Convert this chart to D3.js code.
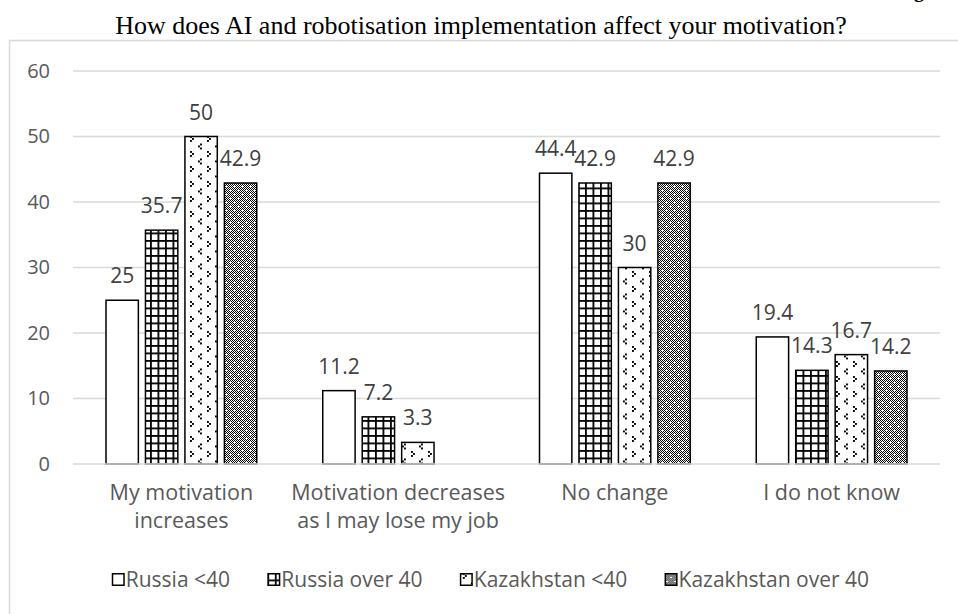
<!DOCTYPE html>
<html><head><meta charset="utf-8">
<script src="https://cdn.jsdelivr.net/npm/d3@7"></script>
<style>body{margin:0;background:#fff}svg{display:block}</style>
</head><body>
<svg id="c" width="958" height="614"></svg>
<script>
const categories = [["My motivation","increases"],["Motivation decreases","as I may lose my job"],["No change"],["I do not know"]];
const seriesNames = ["Russia <40","Russia over 40","Kazakhstan <40","Kazakhstan over 40"];
const russiaUnder40 = [25, 11.2, 44.4, 19.4];
const russiaOver40 = [35.7, 7.2, 42.9, 14.3];
const kazakhUnder40 = [50, 3.3, 30, 16.7];
const kazakhOver40 = [42.9, null, 42.9, 14.2];
const yTicks = [0,10,20,30,40,50,60];
const title = "How does AI and robotisation implementation affect your motivation?";

const series = [russiaUnder40, russiaOver40, kazakhUnder40, kazakhOver40];
const FONT = "Open Sans";
const svg = d3.select("#c");
const defs = svg.append("defs");

// patterns
const pGrid = defs.append("pattern").attr("id","p1").attr("patternUnits","userSpaceOnUse")
  .attr("width",7.5).attr("height",7.5);
pGrid.append("rect").attr("width",7.5).attr("height",7.5).attr("fill","#fff");
pGrid.append("rect").attr("x",0).attr("y",0).attr("width",1.8).attr("height",7.5).attr("fill","#000");
pGrid.append("rect").attr("x",0).attr("y",0).attr("width",7.5).attr("height",1.8).attr("fill","#000");

const pConf = defs.append("pattern").attr("id","p2").attr("patternUnits","userSpaceOnUse")
  .attr("width",17).attr("height",15);
pConf.append("rect").attr("width",17).attr("height",15).attr("fill","#fff");
[[3,1,1],[11,8.5,-1]].forEach(([cx,cy,dir])=>{
  const pts = dir>0 ? [[0,0],[2,2],[0,4]] : [[2,0],[0,2],[2,4]];
  pts.forEach(([dx,dy])=>pConf.append("rect").attr("x",cx+dx).attr("y",cy+dy).attr("width",1.9).attr("height",1.9).attr("fill","#000"));
});

const pChk = defs.append("pattern").attr("id","p3").attr("patternUnits","userSpaceOnUse")
  .attr("width",8).attr("height",8);
pChk.append("rect").attr("width",8).attr("height",8).attr("fill","#fff");
for(let i=0;i<8;i++)for(let j=0;j<8;j++){
  if((i+j)%2===0) pChk.append("rect").attr("x",i).attr("y",j).attr("width",1).attr("height",1).attr("fill","#000");
}
[[1,3],[3,1],[5,7],[7,5]].forEach(([a,b])=>pChk.append("rect").attr("x",a).attr("y",b).attr("width",1).attr("height",1).attr("fill","#000"));
pChk.append("rect").attr("x",2).attr("y",2).attr("width",1).attr("height",1).attr("fill","#fff");
pChk.append("rect").attr("x",6).attr("y",6).attr("width",1).attr("height",1).attr("fill","#fff");

const fills = ["#fff","url(#p1)","url(#p2)","url(#p3)"];

// frame
svg.append("rect").attr("x",9.5).attr("y",40.5).attr("width",1000).attr("height",700)
  .attr("fill","none").attr("stroke","#d9d9d9").attr("stroke-width",1.5);

// partial text from above
svg.append("text").attr("x",914).attr("y",-3).attr("font-family","Liberation Serif").attr("font-weight","bold")
  .attr("font-size",20).text("g");

// title
svg.append("text").attr("x",481).attr("y",34).attr("text-anchor","middle")
  .attr("font-family","Liberation Serif").attr("font-size",26).attr("fill","#000").text(title);

const y = d3.scaleLinear().domain([0,60]).range([464,71]);
const x0 = d3.scaleBand().domain(d3.range(categories.length)).range([73,940]);
const x1 = d3.scaleBand().domain(d3.range(seriesNames.length)).range([33, x0.bandwidth()-33]).paddingInner(0.18);

// gridlines
svg.append("g").selectAll("line").data(yTicks.filter(d=>d>0)).join("line")
  .attr("x1",73).attr("x2",940).attr("y1",d=>y(d)).attr("y2",d=>y(d))
  .attr("stroke","#d9d9d9").attr("stroke-width",1.5);

// y tick labels
const yAxis = d3.axisLeft(y).tickValues(yTicks).tickSize(0).tickPadding(0);
const ga = svg.append("g").attr("transform","translate(50,0)").call(yAxis);
ga.select(".domain").remove();
ga.selectAll("text").attr("font-family",FONT).attr("font-size",20).attr("fill","#595959");

// bars
const grp = svg.append("g");
series.forEach((vals,si)=>{
  const data = vals.map((v,ci)=>({v,ci})).filter(d=>d.v!=null);
  grp.append("g").selectAll("rect").data(data).join("rect")
    .attr("x",d=>x0(d.ci)+x1(si)).attr("width",x1.bandwidth())
    .attr("y",d=>y(d.v)).attr("height",d=>y(0)-y(d.v))
    .attr("fill",fills[si]).attr("stroke","#000").attr("stroke-width",1.5);
  grp.append("g").selectAll("text").data(data).join("text")
    .attr("x",d=>x0(d.ci)+x1(si)+x1.bandwidth()/2).attr("y",d=>y(d.v)-17)
    .attr("text-anchor","middle").attr("font-family",FONT).attr("font-size",21)
    .attr("fill","#404040").text(d=>d.v);
});

// axis line
svg.append("line").attr("x1",73).attr("x2",940).attr("y1",y(0)).attr("y2",y(0))
  .attr("stroke","#d9d9d9").attr("stroke-width",1.5);

// category labels
const cl = svg.append("g").selectAll("text").data(categories).join("text")
  .attr("x",(d,i)=>x0(i)+x0.bandwidth()/2).attr("y",500).attr("text-anchor","middle")
  .attr("font-family",FONT).attr("font-size",21.5).attr("fill","#595959");
cl.selectAll("tspan").data(d=>d).join("tspan")
  .attr("x",function(){return this.parentNode.getAttribute("x");})
  .attr("dy",(d,i)=>i===0?0:28).text(d=>d);

// legend (laid out sequentially, centered)
const lgRoot = svg.append("g");
const items = lgRoot.selectAll("g").data(seriesNames).join("g");
items.append("rect").attr("x",0.75).attr("y",-13.25).attr("width",11.5).attr("height",11.5)
  .attr("fill",(d,i)=>fills[i]).attr("stroke","#000").attr("stroke-width",1.5);
items.append("text").attr("x",14).attr("y",0).attr("font-family",FONT).attr("font-size",21)
  .attr("fill","#595959").text(d=>d);
let cx = 0; const gap = 38;
items.each(function(){
  const w = this.getBBox().width;
  d3.select(this).attr("transform",`translate(${cx},587)`);
  cx += w + gap;
});
const totalW = cx - gap;
lgRoot.attr("transform",`translate(${490 - totalW/2},0)`);
</script>
</body></html>
